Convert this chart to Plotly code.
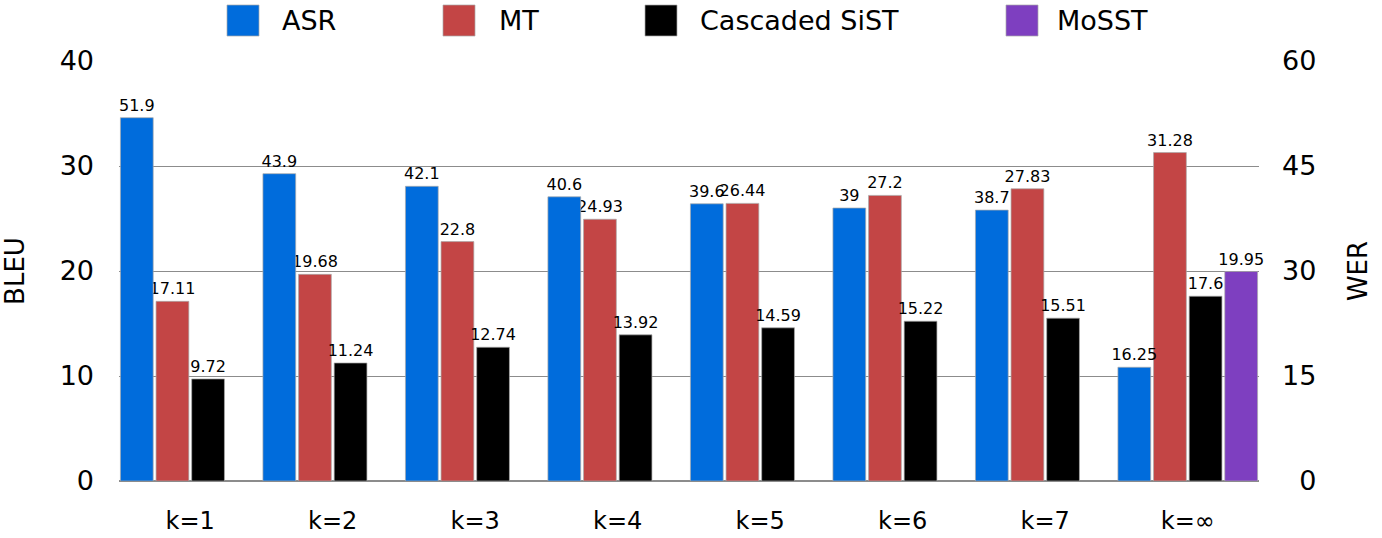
import plotly.graph_objects as go

# ---- data ----
categories = ["k=1", "k=2", "k=3", "k=4", "k=5", "k=6", "k=7", "k=∞"]
asr_wer = [51.9, 43.9, 42.1, 40.6, 39.6, 39, 38.7, 16.25]
mt_bleu = [17.11, 19.68, 22.8, 24.93, 26.44, 27.2, 27.83, 31.28]
sist_bleu = [9.72, 11.24, 12.74, 13.92, 14.59, 15.22, 15.51, 17.6]
mosst_bleu = [None, None, None, None, None, None, None, 19.95]

series_names = ["ASR", "MT", "Cascaded SiST", "MoSST"]
colors = ["#006CDC", "#C34545", "#000000", "#7E3FC0"]
bleu_ticks = [0, 10, 20, 30, 40]
wer_ticks = [0, 15, 30, 45, 60]

FONT = "DejaVu Sans"
W, H = 1382, 538
L, R, T, B = 119, 123, 61, 57
PW, PH = W - L - R, H - T - B

fig = go.Figure()
values = [asr_wer, mt_bleu, sist_bleu, mosst_bleu]
axes = ["y2", "y", "y", "y"]
for i, (name, vals, col, ax) in enumerate(zip(series_names, values, colors, axes)):
    fig.add_trace(go.Bar(
        x=categories, y=vals, name=name, yaxis=ax,
        marker=dict(color=col, line=dict(color="rgba(170,170,170,0.7)", width=1)),
        text=[("" if v is None else f"{v:g}") for v in vals],
        textposition="outside", constraintext="none", cliponaxis=False,
        textfont=dict(family=FONT, size=16, color="black"),
        offsetgroup=str(i), alignmentgroup="all", showlegend=False,
    ))

# custom legend (large swatches like the reference)
sw_left = [227, 443, 645, 1006]
txt_left = [280, 497, 698, 1055]
def px_x(p):
    return (p - L) / PW
def px_y(p):
    return (H - B - p) / PH
for name, col, sx, tx in zip(series_names, colors, sw_left, txt_left):
    fig.add_shape(type="rect", xref="paper", yref="paper",
                  x0=px_x(sx), x1=px_x(sx + 32), y0=px_y(36), y1=px_y(5),
                  fillcolor=col, line=dict(color="rgba(170,170,170,0.7)", width=1))
    fig.add_annotation(xref="paper", yref="paper", x=px_x(tx), y=px_y(21),
                       xanchor="left", yanchor="middle", showarrow=False,
                       text=name, font=dict(family=FONT, size=27, color="black"))

fig.update_layout(
    width=W, height=H,
    margin=dict(l=L, r=R, t=T, b=B, autoexpand=False),
    paper_bgcolor="white", plot_bgcolor="white",
    barmode="group", bargap=0, bargroupgap=0.08,
    font=dict(family=FONT, color="black"),
    showlegend=False,
    xaxis=dict(
        showgrid=False, showline=False, zeroline=False, ticks="",
        tickfont=dict(family=FONT, size=24), ticklabelstandoff=23,
    ),
    yaxis=dict(
        range=[0, 40], tickvals=bleu_ticks, showgrid=True,
        gridcolor="#8c8c8c", gridwidth=1, zeroline=True, zerolinecolor="#8c8c8c",
        zerolinewidth=1.5, showline=False, ticks="",
        tickfont=dict(family=FONT, size=27), ticklabelstandoff=24,
        title=dict(text="BLEU", font=dict(family=FONT, size=26), standoff=28),
    ),
    yaxis2=dict(
        range=[0, 60], tickvals=wer_ticks,
        ticktext=[("\u2007" + str(t)) if t < 10 else str(t) for t in wer_ticks],
        overlaying="y", side="right", showgrid=False, zeroline=False,
        showline=False, ticks="",
        tickfont=dict(family=FONT, size=27), ticklabelstandoff=22,
        title=dict(text="WER", font=dict(family=FONT, size=26), standoff=33),
    ),
)

fig.write_html("out.html", config={"displayModeBar": False},
               post_script="document.body.style.margin='0';")
